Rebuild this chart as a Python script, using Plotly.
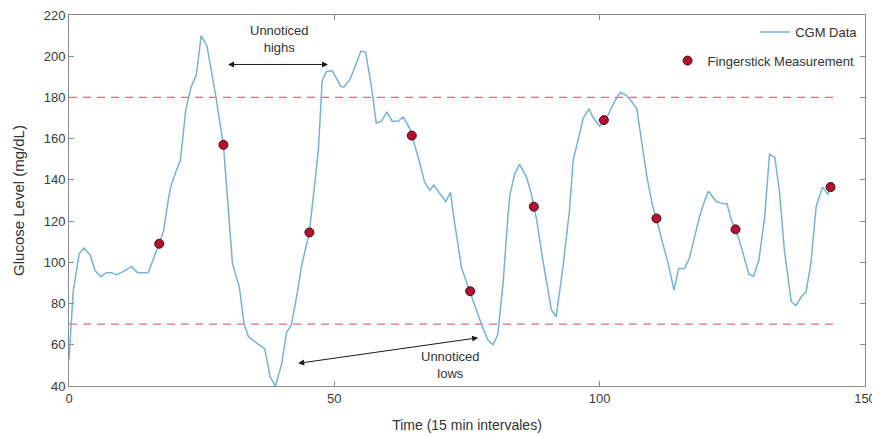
import plotly.graph_objects as go

# CGM trace vertices (time in 15-min intervals, glucose mg/dL)
cgm_time = [0, 0.8, 1.9, 2.8, 4, 4.9, 6, 7, 8, 9, 10.2, 11.8, 12.9, 14.9, 17, 17.8, 18.7,
            19.2, 20, 21, 22, 23, 24, 24.9, 26, 27.7, 29.1, 29.9, 30.8, 32.1, 33, 33.8, 35,
            36.9, 37.9, 38.9, 40.1, 41, 41.9, 43, 43.8, 45.3, 46, 47, 47.7, 48.5, 49.6, 51.2,
            51.8, 52.9, 54, 55, 55.9, 57, 57.9, 58.9, 59.9, 60.9, 62, 63, 64.2, 65.8, 67, 68,
            68.7, 69.9, 71, 71.9, 72.5, 74, 74.9, 75.6, 76.8, 78, 79, 79.9, 80.8, 81.8, 82.7,
            83.1, 84, 84.9, 86.2, 87.1, 87.6, 88.1, 89.3, 90.3, 90.9, 91.8, 93.1, 94.3, 95,
            95.9, 96.9, 98, 98.7, 100, 100.8, 101.6, 102.8, 103.9, 105, 105.9, 107, 107.8,
            108.9, 110, 110.7, 111.9, 112.9, 114, 114.9, 116, 116.9, 117.9, 118.8, 119.8,
            120.5, 122, 123.2, 124, 124.8, 125.6, 126.7, 128.1, 129, 130, 131.1, 132, 133,
            133.9, 134.8, 136.1, 137, 138, 138.9, 139.8, 140.8, 141.1, 142, 143, 143.9]
cgm_glucose = [53, 86, 104, 107, 103.5, 96, 93, 95, 95, 94, 95.5, 98, 95, 95, 109, 115, 130,
               137, 143, 149.5, 174, 185, 191, 210, 205, 180, 157, 128, 99.5, 88, 70, 64, 61.5,
               58, 44.5, 40, 51, 66, 69.5, 85, 98, 114.5, 130, 154.5, 188, 192.5, 193, 185.5,
               185, 188.5, 195.5, 202.5, 202, 185, 167.5, 168.5, 173, 168.5, 168.5, 170.5, 165,
               151, 139, 135, 137.5, 133.5, 129.5, 134, 122, 97, 90.5, 86, 77.5, 68, 62, 60, 65,
               90, 122, 133, 143, 147.5, 141.5, 133.5, 127, 121, 101, 86.5, 77, 73.5, 98, 125,
               149.5, 159, 170, 174.5, 170.5, 166, 169, 171.5, 178, 182.5, 181, 178.5, 174.5,
               161, 141.5, 127, 121, 109, 99.5, 86.5, 97, 97, 102, 112.5, 122, 130, 134.5,
               129.5, 128.5, 128.3, 120.5, 116, 107.5, 94.3, 93.3, 101, 122, 152.5, 151, 134,
               106, 81, 79, 83.3, 85.7, 99.5, 127, 129.5, 136.5, 133, 139]

# Fingerstick measurements
finger_time = [17, 29.1, 45.3, 64.6, 75.6, 87.6, 100.8, 110.7, 125.6, 143.5]
finger_glucose = [109, 157, 114.5, 161.5, 86, 127, 169, 121.3, 116, 136.5]

# Thresholds
high_limit = 180
low_limit = 70
limit_range = [0, 144]

x_ticks = [0, 50, 100, 150]
y_ticks = [40, 60, 80, 100, 120, 140, 160, 180, 200, 220]

fig = go.Figure()

for lim in [high_limit, low_limit]:
    fig.add_trace(go.Scatter(x=limit_range, y=[lim, lim], mode="lines",
                             line=dict(color="#e36a78", width=1.3, dash="8px,6px"),
                             showlegend=False, hoverinfo="skip"))

fig.add_trace(go.Scatter(x=cgm_time, y=cgm_glucose, mode="lines", name="CGM Data",
                         line=dict(color="#74b3d6", width=1.5), legend="legend"))
fig.add_trace(go.Scatter(x=finger_time, y=finger_glucose, mode="markers",
                         name="Fingerstick Measurement",
                         marker=dict(color="#b3112e", size=9,
                                     line=dict(color="#4a0a14", width=1)),
                         legend="legend2"))

arrow_col = "#1a1a1a"
fig.add_annotation(x=48.8, y=196, ax=29.7, ay=196, xref="x", yref="y", axref="x", ayref="y",
                   text="", showarrow=True, arrowhead=2, startarrowhead=2,
                   arrowside="end+start", arrowsize=1.2, arrowwidth=1, arrowcolor=arrow_col)
fig.add_annotation(x=77.1, y=63.4, ax=42.9, ay=50.9, xref="x", yref="y", axref="x", ayref="y",
                   text="", showarrow=True, arrowhead=2, startarrowhead=2,
                   arrowside="end+start", arrowsize=1.2, arrowwidth=1, arrowcolor=arrow_col)
fig.add_annotation(x=39.7, y=208.6, xref="x", yref="y", text="Unnoticed<br>highs",
                   showarrow=False, font=dict(size=13, color="#333333"))
fig.add_annotation(x=71.8, y=50, xref="x", yref="y", text="Unnoticed<br>lows",
                   showarrow=False, font=dict(size=13, color="#333333"))

axis_common = dict(showgrid=False, zeroline=False, showline=True, linecolor="#8a8a8a",
                   linewidth=1, mirror="ticks", ticks="inside", ticklen=5, automargin=False,
                   ticklabeloverflow="allow",
                   tickcolor="#8a8a8a", tickfont=dict(size=13, color="#3a3a3a"))

# page body has an 8px default margin, so the figure is sized to fit inside the window
fig.update_layout(
    width=872, height=428,
    margin=dict(l=61, r=15, t=7, b=50, autoexpand=False),
    paper_bgcolor="white", plot_bgcolor="white",
    font=dict(family="Liberation Sans, Arial, sans-serif", color="#333333"),
    xaxis=dict(range=[0, 150], tickvals=x_ticks, ticktext=[str(t) for t in x_ticks],
               title=dict(text="Time (15 min intervales)", font=dict(size=14, color="#333333")),
               **axis_common),
    yaxis=dict(range=[40, 220], tickvals=y_ticks, ticktext=[str(t) for t in y_ticks],
               title=dict(text="Glucose Level (mg/dL)", font=dict(size=15, color="#333333")),
               **axis_common),
    legend=dict(x=0.862, y=0.954, xanchor="left", yanchor="middle", bgcolor="rgba(0,0,0,0)",
                font=dict(size=13, color="#333333")),
    legend2=dict(x=0.752, y=0.877, xanchor="left", yanchor="middle", bgcolor="rgba(0,0,0,0)",
                 font=dict(size=13, color="#333333")),
)

fig.write_html("out.html")
